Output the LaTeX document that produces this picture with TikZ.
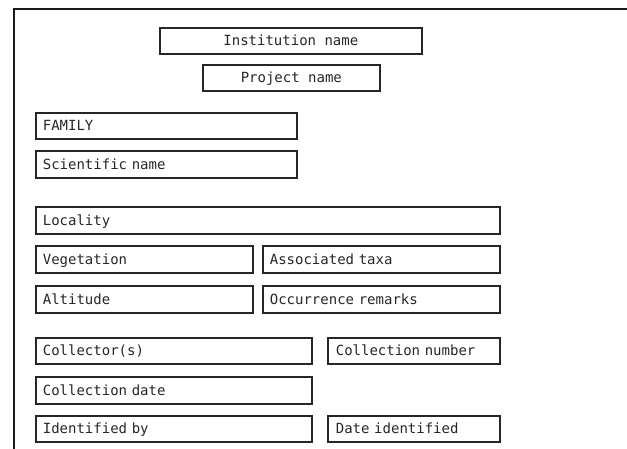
\documentclass[tikz,border=0pt]{standalone}
\usepackage{fontspec}
\setmonofont{DejaVu Sans Mono}
\begin{document}
\begin{tikzpicture}[x=1pt,y=-1pt,
  field/.style={draw=black!85, line width=1.7pt, rectangle, inner xsep=7pt, inner ysep=0pt,
    anchor=north west, font=\ttfamily\fontsize{14}{16}\selectfont, text=black!85,
    text height=10.2pt, text depth=0pt, align=left},
  cfield/.style={field, align=center}]
\useasboundingbox (0,0) rectangle (627,449);
\draw[line width=1.9pt, black!90] (14,450) -- (14,9) -- (628,9);
\node[cfield, minimum width=262pt, minimum height=26pt] (inst) at (159,27) {Institution name};
\node[cfield, minimum width=177pt, minimum height=26pt] (proj) at (202,64) {Project name};
\node[field, minimum width=261pt, text width=247pt, minimum height=26pt] (fam) at (35,112) {FAMILY};
\node[field, minimum width=261pt, text width=247pt, minimum height=27pt] (sci) at (35,150) {Scientific name};
\node[field, minimum width=464pt, text width=450pt, minimum height=27pt] (loc) at (35,206) {Locality};
\node[field, minimum width=217pt, text width=203pt, minimum height=27pt] (veg) at (35,245) {Vegetation};
\node[field, minimum width=237pt, text width=223pt, minimum height=27pt] (assoc) at (262,245) {Associated taxa};
\node[field, minimum width=217pt, text width=203pt, minimum height=27pt] (alt) at (35,285) {Altitude};
\node[field, minimum width=237pt, text width=223pt, minimum height=27pt] (occ) at (262,285) {Occurrence remarks};
\node[field, minimum width=276pt, text width=262pt, minimum height=26pt] (coll) at (35,337) {Collector(s)};
\node[field, minimum width=172pt, text width=156pt, inner xsep=8pt, minimum height=26pt] (collnum) at (327,337) {Collection number};
\node[field, minimum width=276pt, text width=262pt, minimum height=27pt] (colldate) at (35,376) {Collection date};
\node[field, minimum width=276pt, text width=262pt, minimum height=26pt] (ident) at (35,415) {Identified by};
\node[field, minimum width=172pt, text width=156pt, inner xsep=8pt, minimum height=26pt] (dateid) at (327,415) {Date identified};
\end{tikzpicture}
\end{document}
